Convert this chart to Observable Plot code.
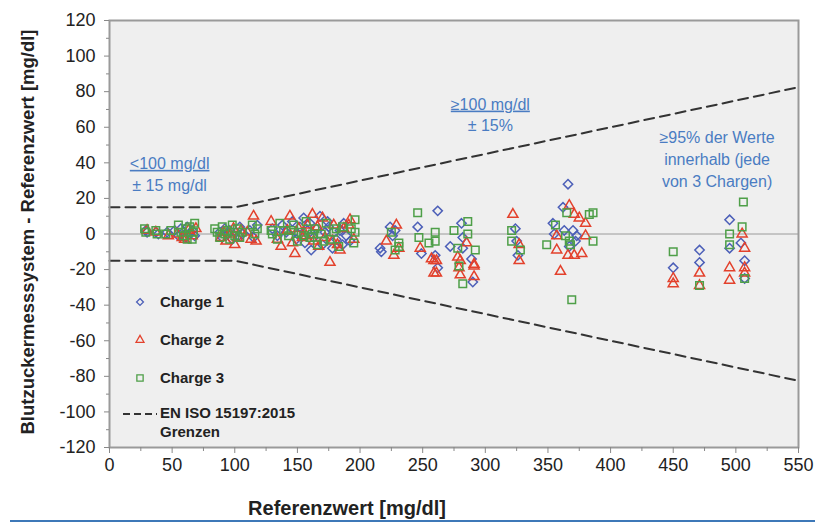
<!DOCTYPE html>
<html>
<head>
<meta charset="utf-8">
<script src="https://cdn.jsdelivr.net/npm/d3@7"></script>
<script src="https://cdn.jsdelivr.net/npm/@observablehq/plot@0.6"></script>
<style>
  html, body { margin: 0; padding: 0; background: #fff; }
  #wrap { position: relative; width: 815px; height: 524px; font-family: "Liberation Sans", Arial, sans-serif; overflow: hidden; }
  #ylab { position: absolute; left: 28px; top: 232px; transform: translate(-50%, -50%) rotate(-90deg); white-space: nowrap; font-weight: bold; font-size: 18.5px; color: #222; }
  #xlab { position: absolute; left: 347px; top: 508px; transform: translate(-50%, -50%); white-space: nowrap; font-weight: bold; font-size: 20px; color: #222; }
  #legend { position: absolute; left: 0; top: 0; pointer-events: none; }
  #rule { position: absolute; left: 10px; right: 0; top: 520px; height: 2px; background: #3d78b8; }
</style>
</head>
<body>
<div id="wrap">
  <div id="chart"></div>
  <div id="ylab">Blutzuckermesssystem - Referenzwert [mg/dl]</div>
  <div id="xlab">Referenzwert [mg/dl]</div>
  <div id="rule"></div>
</div>
<script>
// ---- Data (reference value [mg/dl], difference [mg/dl]) ----
const charge1 = [
  [29,2],[30,1],[37,1],[39,0],[46,1],[52,2],[55,-1],[57,3],[59,1],[61,-2],[62,4],[64,0],[66,2],[68,-1],
  [88,1],[90,-2],[92,3],[94,0],[96,2],[98,-3],[101,1],[103,-1],[104,4],[106,0],[112,2],[115,-2],[118,5],
  [130,3],[134,-1],[138,5],[141,1],[146,7],[149,-3],[152,4],[155,9],[156,-5],[158,2],[160,6],[163,-2],
  [165,3],[168,10],[170,-6],[172,1],[175,4],[178,-8],[181,-3],[184,2],[187,6],[189,-1],[192,-4],
  [150,0],[161,-9],[174,7],[186,-6],
  [216,-8],[217,-10],[224,4],[226,-1],[228,2],[246,4],[249,-11],[260,-12],[262,13],[262,-19],
  [272,-7],[281,6],[282,-8],[282,-2],[289,-14],[290,-27],[324,3],[325,-4],[326,-12],
  [354,6],[355,0],[362,15],[363,2],[366,28],[367,-7],[370,2],[373,-1],[372,-4],
  [450,-19],[471,-9],[471,-16],[495,8],[495,-8],[504,-5],[507,-15],[507,-25]
];
const charge2 = [
  [30,2],[37,1],[47,-1],[54,0],[58,-2],[60,-3],[63,2],[66,-1],[69,3],
  [89,-2],[91,1],[93,-4],[96,0],[99,3],[100,-6],[102,-2],[105,2],[110,1],[113,-3],[115,10],[117,-4],
  [129,7],[134,-3],[137,-7],[142,2],[144,10],[148,-11],[151,3],[154,-2],[158,5],[162,11],[163,-4],
  [167,-7],[170,9],[172,-2],[176,-16],[179,5],[182,-6],[184,-9],[187,3],[191,5],[192,8],[195,-3],
  [146,-5],[157,-1],[166,4],[178,-4],
  [221,-4],[227,-12],[229,5],[231,-8],[248,-8],[257,-14],[259,-15],[259,-22],[261,-15],[261,-22],
  [278,-13],[279,-19],[280,-23],[280,-15],[285,-5],[291,-18],[291,-24],[291,-17],
  [322,11],[327,-6],[327,-15],[357,-1],[357,-9],[360,-21],[366,-12],[367,16],[371,11],[371,-12],
  [375,9],[377,-11],[380,6],[380,-1],
  [450,-25],[450,-28],[471,-22],[471,-29],[495,-19],[495,-26],[505,0],[507,-8],[507,-19],[507,-22]
];
const charge3 = [
  [28,3],[29,1],[37,2],[38,0],[45,0],[49,2],[55,5],[57,1],[59,-1],[61,3],[62,-3],[64,4],[66,-3],[67,1],[68,6],
  [84,3],[86,1],[88,-2],[90,4],[92,0],[94,2],[96,-3],[98,5],[100,-1],[102,3],[104,-2],[106,1],[114,5],[116,0],[118,3],
  [129,2],[130,0],[134,-3],[136,6],[139,2],[143,-1],[147,5],[150,-4],[153,1],[157,7],[160,-2],[164,3],
  [166,-6],[169,0],[173,6],[176,-3],[179,1],[183,-7],[186,4],[193,3],[196,8],[196,1],[195,-5],
  [145,2],[155,-1],[162,0],[171,-4],[181,3],
  [225,1],[228,-9],[231,-5],[231,-7],[246,12],[247,-2],[255,-5],[260,1],[260,-4],
  [275,2],[278,-8],[279,-18],[282,-28],[286,7],[286,0],[292,-9],[321,2],[321,-4],[328,-9],
  [349,-6],[356,5],[365,12],[364,-1],[367,-4],[368,-6],[369,-37],[383,11],[386,12],[386,-4],
  [450,-10],[471,-29],[495,0],[495,-6],[505,4],[506,18],[507,-25]
];
// ISO 15197:2015 limits
const limitX = [0, 100, 550];
const limitUpper = [15, 15, 82.5];
const limitLower = [-15, -15, -82.5];
// Axis ticks
const xTicks = [0,50,100,150,200,250,300,350,400,450,500,550];
const xMinor = [25,75,125,175,225,275,325,375,425,475,525];
const yTicks = [-120,-100,-80,-60,-40,-20,0,20,40,60,80,100,120];
const yMinor = [-110,-90,-70,-50,-30,-10,10,30,50,70,90,110];
// Annotations
const notes = [
  {x: 48, y: 39.5, text: "<100 mg/dl", u: true},
  {x: 48, y: 27, text: "± 15 mg/dl"},
  {x: 304, y: 72.8, text: "≥100 mg/dl", u: true},
  {x: 304, y: 61, text: "± 15%"},
  {x: 485, y: 54.2, text: "≥95% der Werte"},
  {x: 485, y: 41.9, text: "innerhalb (jede"},
  {x: 485, y: 29.5, text: "von 3 Chargen)"}
];

const C1 = "#4c5fb8", C2 = "#e3412c", C3 = "#4e9f48";
const toRows = a => a.map(([x, y]) => ({x, y}));
const upper = limitX.map((x, i) => ({x, y: limitUpper[i]}));
const lower = limitX.map((x, i) => ({x, y: limitLower[i]}));

const chart = Plot.plot({
  width: 815, height: 524,
  marginLeft: 109, marginRight: 17, marginTop: 20, marginBottom: 77,
  x: {domain: [0, 550], label: null},
  y: {domain: [-120, 120], label: null},
  style: {fontFamily: "'Liberation Sans', Arial, sans-serif", fontSize: "18px", color: "#222", background: "transparent"},
  marks: [
    Plot.frame({fill: "#efefef", stroke: null}),
    Plot.ruleY([0], {stroke: "#9a9a9a", strokeWidth: 1}),
    Plot.line(upper, {x: "x", y: "y", stroke: "#333", strokeWidth: 2, strokeDasharray: "10,6"}),
    Plot.line(lower, {x: "x", y: "y", stroke: "#333", strokeWidth: 2, strokeDasharray: "10,6"}),
    Plot.dot(toRows(charge1), {x: "x", y: "y", symbol: "diamond2", r: 4.2, stroke: C1, strokeWidth: 1.5, fill: "none"}),
    Plot.dot(toRows(charge2), {x: "x", y: "y", symbol: "triangle2", r: 4.8, stroke: C2, strokeWidth: 1.5, fill: "none"}),
    Plot.dot(toRows(charge3), {x: "x", y: "y", symbol: "square2", r: 4.8, stroke: C3, strokeWidth: 1.5, fill: "none"}),
    Plot.text(notes, {x: "x", y: "y", text: "text", fill: "#4a7cc2", fontSize: 16, textAnchor: "middle"}),
    Plot.frame({stroke: "#9a9a9a", strokeWidth: 2}),
    Plot.axisX(xTicks, {tickSize: 6, tickPadding: 5, tickFormat: d => String(d), label: null, stroke: "#888", fontSize: 18}),
    Plot.axisX(xMinor, {tickSize: 4, tickFormat: () => "", label: null, stroke: "#888"}),
    Plot.axisY(yTicks, {tickSize: 5, tickPadding: 9, tickFormat: d => String(d), label: null, stroke: "#888", fontSize: 18}),
    Plot.axisY(yMinor, {tickSize: 3, tickFormat: () => "", label: null, stroke: "#888"})
  ]
});
document.getElementById("chart").appendChild(chart);
// underline range headers
d3.select(chart).selectAll("text").filter(function() {
  const t = this.textContent; return t === "<100 mg/dl" || t === "≥100 mg/dl";
}).attr("text-decoration", "underline");

// Legend overlay
const lg = d3.select("#wrap").append("svg").attr("id", "legend").attr("width", 815).attr("height", 524);
const items = [
  {sym: d3.symbolDiamond2, c: C1, y: 302, label: "Charge 1", s: 30},
  {sym: d3.symbolTriangle2, c: C2, y: 340, label: "Charge 2", s: 45},
  {sym: d3.symbolSquare2, c: C3, y: 378, label: "Charge 3", s: 50}
];
items.forEach(it => {
  lg.append("path").attr("d", d3.symbol(it.sym, it.s)()).attr("transform", `translate(140,${it.y})`)
    .attr("fill", "none").attr("stroke", it.c).attr("stroke-width", 1.3);
  lg.append("text").attr("x", 160).attr("y", it.y).attr("dy", "0.35em").text(it.label)
    .attr("font-family", "'Liberation Sans', Arial, sans-serif").attr("font-weight", "bold").attr("font-size", 15).attr("fill", "#222");
});
lg.append("line").attr("x1", 123).attr("x2", 157).attr("y1", 414).attr("y2", 414)
  .attr("stroke", "#333").attr("stroke-width", 2).attr("stroke-dasharray", "7,4");
lg.append("text").attr("x", 160).attr("y", 413).attr("dy", "0.35em").text("EN ISO 15197:2015")
  .attr("font-family", "'Liberation Sans', Arial, sans-serif").attr("font-weight", "bold").attr("font-size", 15).attr("fill", "#222");
lg.append("text").attr("x", 160).attr("y", 432).attr("dy", "0.35em").text("Grenzen")
  .attr("font-family", "'Liberation Sans', Arial, sans-serif").attr("font-weight", "bold").attr("font-size", 15).attr("fill", "#222");
</script>
</body>
</html>
